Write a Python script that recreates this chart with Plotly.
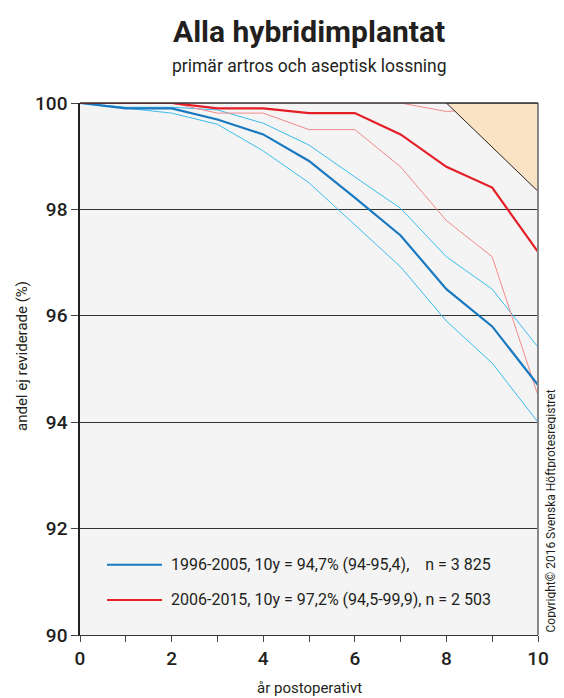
import plotly.graph_objects as go

years = [0, 1, 2, 3, 4, 5, 6, 7, 8, 9, 10]

blue_main = [100, 99.90, 99.90, 99.69, 99.41, 98.91, 98.22, 97.51, 96.50, 95.80, 94.70]
blue_upper = [100, 99.92, 99.92, 99.87, 99.62, 99.21, 98.61, 98.02, 97.11, 96.50, 95.41]
blue_lower = [100, 99.90, 99.81, 99.60, 99.10, 98.50, 97.71, 96.92, 95.90, 95.11, 94.00]

red_main = [100, 100, 100, 99.90, 99.90, 99.81, 99.81, 99.41, 98.80, 98.41, 97.20]
red_upper = [100, 100, 100, 100, 100, 100, 100, 100, 99.84, 99.90, 99.90]
red_lower = [100, 100, 100, 99.81, 99.81, 99.50, 99.50, 98.80, 97.79, 97.11, 94.50]

legend_labels = [
    "1996-2005, 10y = 94,7% (94-95,4),    n = 3 825",
    "2006-2015, 10y = 97,2% (94,5-99,9), n = 2 503",
]

y_ticks = [90, 92, 94, 96, 98, 100]
x_ticks = [0, 2, 4, 6, 8, 10]

# triangle corner (shaded region)
tri_x = [8.0, 10, 10, 8.0]
tri_y = [100, 100, 98.34, 100]

FONT = "Roboto, Liberation Sans, sans-serif"
TXT = "#231f20"

fig = go.Figure()

light_blue = "#3cbcee"
dark_blue = "#1878c0"
light_red = "#f08a8a"
dark_red = "#e41e26"

fig.add_trace(go.Scatter(x=years, y=blue_upper, mode="lines", line=dict(color=light_blue, width=1), showlegend=False, hoverinfo="skip"))
fig.add_trace(go.Scatter(x=years, y=blue_lower, mode="lines", line=dict(color=light_blue, width=1), showlegend=False, hoverinfo="skip"))
fig.add_trace(go.Scatter(x=years, y=red_upper, mode="lines", line=dict(color=light_red, width=1), showlegend=False, hoverinfo="skip"))
fig.add_trace(go.Scatter(x=years, y=red_lower, mode="lines", line=dict(color=light_red, width=1), showlegend=False, hoverinfo="skip"))
fig.add_trace(go.Scatter(x=years, y=blue_main, mode="lines", line=dict(color=dark_blue, width=2.2), name=legend_labels[0], showlegend=False))
fig.add_trace(go.Scatter(x=years, y=red_main, mode="lines", line=dict(color=dark_red, width=2.2), name=legend_labels[1], showlegend=False))

# shaded triangle on top
fig.add_trace(go.Scatter(x=tri_x, y=tri_y, mode="lines", fill="toself", fillcolor="#fae3c5",
                         line=dict(color="#222222", width=1), showlegend=False, hoverinfo="skip"))

# legend drawn inside the plot
leg_y = [91.32, 90.66]
leg_colors = [dark_blue, dark_red]
for i in range(2):
    fig.add_shape(type="line", x0=0.59, x1=1.79, y0=leg_y[i], y1=leg_y[i], xref="x", yref="y",
                  line=dict(color=leg_colors[i], width=2))
    fig.add_annotation(x=1.95, y=leg_y[i], xref="x", yref="y", text=legend_labels[i], showarrow=False,
                       xanchor="left", yanchor="middle", font=dict(family=FONT, size=16, color=TXT))

# page has an 8px body margin; compensate
fig.update_layout(
    width=556, height=690,
    margin=dict(l=72, r=26, t=95, b=63),
    paper_bgcolor="white",
    plot_bgcolor="#f4f4f4",
    showlegend=False,
    font=dict(family=FONT, color=TXT),
)

fig.update_xaxes(
    range=[0, 10], tickvals=x_ticks, ticktext=[str(v) for v in x_ticks],
    ticks="outside", ticklen=6, tickwidth=1, tickcolor="#444",
    minor=dict(dtick=1, ticks="outside", ticklen=6, tickcolor="#444", showgrid=False),
    showgrid=False, zeroline=False, automargin=False,
    showline=True, linecolor="#333", linewidth=1, mirror=False,
    tickfont=dict(family=FONT, size=19, color=TXT, weight=500),
)
fig.update_yaxes(
    range=[90, 100], tickvals=y_ticks, ticktext=[str(v) for v in y_ticks],
    ticks="outside", ticklen=7, tickwidth=1, tickcolor="#444",
    showgrid=True, gridcolor="#333", gridwidth=1, zeroline=False, automargin=False,
    showline=True, linecolor="#222", linewidth=1.5,
    tickfont=dict(family=FONT, size=19, color=TXT, weight=500),
)

# axis titles
fig.add_annotation(text="år postoperativt", xref="paper", yref="paper", x=0.5, y=0, yshift=-53,
                   showarrow=False, xanchor="center", yanchor="middle",
                   font=dict(family=FONT, size=15, color=TXT))
fig.add_annotation(text="andel ej reviderade (%)", xref="paper", yref="paper", x=0, y=0.5, xshift=-58, yshift=13,
                   textangle=-90, showarrow=False, xanchor="center", yanchor="middle",
                   font=dict(family=FONT, size=15, color=TXT))

# right border (gray) and top border
fig.add_shape(type="line", xref="paper", yref="paper", x0=1, x1=1, y0=0, y1=1, line=dict(color="#888", width=2))
fig.add_shape(type="line", xref="paper", yref="paper", x0=0, x1=1, y0=1, y1=1, line=dict(color="#333", width=1.5))

fig.add_annotation(text="<b>Alla hybridimplantat</b>", xref="paper", yref="paper", x=0.5, y=1, yshift=72,
                   showarrow=False, xanchor="center", yanchor="middle",
                   font=dict(family=FONT, size=30, color=TXT))
fig.add_annotation(text="primär artros och aseptisk lossning", xref="paper", yref="paper", x=0.5, y=1, yshift=37,
                   showarrow=False, xanchor="center", yanchor="middle",
                   font=dict(family=FONT, size=17.5, color=TXT))
fig.add_annotation(text="Copyright© 2016 Svenska Höftprotesregistret", xref="paper", yref="paper",
                   x=1, y=0, xshift=12, yshift=0, textangle=-90, showarrow=False,
                   xanchor="center", yanchor="bottom",
                   font=dict(family=FONT, size=12, color=TXT))

fig.write_html("out.html")
